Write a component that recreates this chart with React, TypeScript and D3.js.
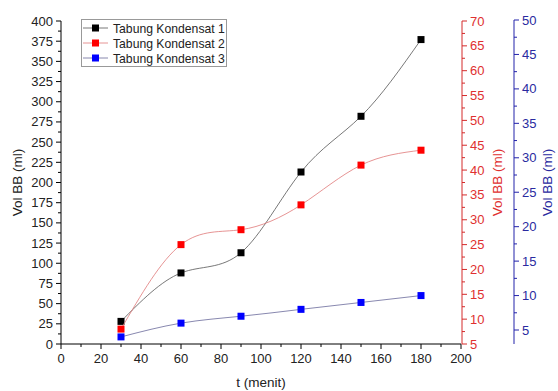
import * as d3 from 'd3';

const times = [30, 60, 90, 120, 150, 180];
const tabung1 = [28, 88, 113, 213, 282, 377];
const tabung2 = [8, 25, 28, 33, 41, 44];
const tabung3 = [4, 6, 7, 8, 9, 10];
const seriesNames = ['Tabung Kondensat 1', 'Tabung Kondensat 2', 'Tabung Kondensat 3'];

const W = 558;
const H = 391;
const left = 61;
const right = 461;
const top = 21;
const bottom = 344;
const font = 'Arial, "Liberation Sans", sans-serif';
const tickSize = 13;
const titleSize = 13.5;

export default function App() {
    const x = d3.scaleLinear().domain([0, 200]).range([left, right]);
    const y1 = d3.scaleLinear().domain([0, 400]).range([bottom, top]);
    const y2 = d3.scaleLinear().domain([5, 70]).range([bottom, top]);
    const y3 = d3.scaleLinear().domain([2.97, 50]).range([bottom, top - 1]);

    const series = [
        { name: seriesNames[0], values: tabung1, y: y1, marker: '#000', line: '#555' },
        { name: seriesNames[1], values: tabung2, y: y2, marker: '#f00', line: '#e07878' },
        { name: seriesNames[2], values: tabung3, y: y3, marker: '#00f', line: '#6a6a9a' },
    ];

    const xMajor = d3.range(0, 201, 20);
    const xMinor = d3.range(10, 200, 20);
    const y1Major = d3.range(0, 401, 25);
    const y1Minor = d3.range(12.5, 400, 25);
    const y2Major = d3.range(5, 71, 5);
    const y2Minor = d3.range(7.5, 70, 5);
    const y3Major = d3.range(5, 51, 5);
    const y3Minor = d3.range(2.5, 50, 5).filter((v) => v >= 2.97);

    const redAxis = '#d42a2a';
    const blueAxis = '#2222aa';
    const blueX = 514;

    return (
        <svg width={W} height={H} style={{ position: 'absolute', left: 0, top: 0, background: '#fff' }}>
            {/* bottom axis */}
            <line x1={left} x2={right} y1={bottom} y2={bottom} stroke="#000" />
            {xMajor.map((v) => (
                <g key={'xm' + v}>
                    <line x1={x(v)} x2={x(v)} y1={bottom} y2={bottom + 5} stroke="#000" />
                    <text x={x(v)} y={bottom + 19} textAnchor="middle" fontSize={tickSize} fontFamily={font} fill="#222">
                        {v}
                    </text>
                </g>
            ))}
            {xMinor.map((v) => (
                <line key={'xn' + v} x1={x(v)} x2={x(v)} y1={bottom} y2={bottom + 3} stroke="#000" />
            ))}
            <text x={(left + right) / 2} y={387} textAnchor="middle" fontSize={titleSize} fontFamily={font} fill="#222">
                t (menit)
            </text>

            {/* left axis */}
            <line x1={left} x2={left} y1={top} y2={bottom} stroke="#000" />
            {y1Major.map((v) => (
                <g key={'ym' + v}>
                    <line x1={left - 5} x2={left} y1={y1(v)} y2={y1(v)} stroke="#000" />
                    <text x={left - 8} y={y1(v) + 4.5} textAnchor="end" fontSize={tickSize} fontFamily={font} fill="#222">
                        {v}
                    </text>
                </g>
            ))}
            {y1Minor.map((v) => (
                <line key={'yn' + v} x1={left - 3} x2={left} y1={y1(v)} y2={y1(v)} stroke="#000" />
            ))}
            <text
                transform={`translate(22,${(top + bottom) / 2}) rotate(-90)`}
                textAnchor="middle"
                fontSize={titleSize}
                fontFamily={font}
                fill="#222"
            >
                Vol BB (ml)
            </text>

            {/* red axis */}
            <line x1={right + 1} x2={right + 1} y1={top} y2={bottom} stroke={redAxis} />
            {y2Major.map((v) => (
                <g key={'rm' + v}>
                    <line x1={right + 1} x2={right + 6} y1={y2(v)} y2={y2(v)} stroke={redAxis} />
                    <text x={right + 9} y={y2(v) + 4.5} fontSize={tickSize} fontFamily={font} fill="#e03030">
                        {v}
                    </text>
                </g>
            ))}
            {y2Minor.map((v) => (
                <line key={'rn' + v} x1={right + 1} x2={right + 4} y1={y2(v)} y2={y2(v)} stroke={redAxis} />
            ))}
            <text
                transform={`translate(502,${(top + bottom) / 2}) rotate(-90)`}
                textAnchor="middle"
                fontSize={titleSize}
                fontFamily={font}
                fill="#e03030"
            >
                Vol BB (ml)
            </text>

            {/* blue axis */}
            <line x1={blueX} x2={blueX} y1={top - 1} y2={bottom} stroke={blueAxis} />
            {y3Major.map((v) => (
                <g key={'bm' + v}>
                    <line x1={blueX} x2={blueX + 5} y1={y3(v)} y2={y3(v)} stroke={blueAxis} />
                    <text x={blueX + 8} y={y3(v) + 4.5} fontSize={tickSize} fontFamily={font} fill="#2a2aa0">
                        {v}
                    </text>
                </g>
            ))}
            {y3Minor.map((v) => (
                <line key={'bn' + v} x1={blueX} x2={blueX + 3} y1={y3(v)} y2={y3(v)} stroke={blueAxis} />
            ))}
            <text
                transform={`translate(552,${(top + bottom) / 2}) rotate(-90)`}
                textAnchor="middle"
                fontSize={titleSize}
                fontFamily={font}
                fill="#2a2aa0"
            >
                Vol BB (ml)
            </text>

            {/* series */}
            {series.map((s) => {
                const pts = times.map((t, i) => [x(t), s.y(s.values[i])] as [number, number]);
                const path = d3.line().curve(d3.curveNatural)(pts) || '';
                return (
                    <g key={s.name}>
                        <path d={path} fill="none" stroke={s.line} strokeWidth={0.8} />
                        {pts.map(([px, py], i) => (
                            <rect key={i} x={px - 3.5} y={py - 3.5} width={7} height={7} fill={s.marker} />
                        ))}
                    </g>
                );
            })}

            {/* legend */}
            <rect x={81.5} y={19.5} width={145} height={47} fill="#fff" stroke="#999" />
            {series.map((s, i) => {
                const ly = 28 + i * 15;
                return (
                    <g key={'lg' + i}>
                        <line x1={83} x2={108} y1={ly} y2={ly} stroke={s.line} strokeWidth={0.8} />
                        <rect x={92} y={ly - 3.5} width={7} height={7} fill={s.marker} />
                        <text x={113} y={ly + 4.5} fontSize={12.2} fontFamily={font} fill="#222">
                            {s.name}
                        </text>
                    </g>
                );
            })}
        </svg>
    );
}
